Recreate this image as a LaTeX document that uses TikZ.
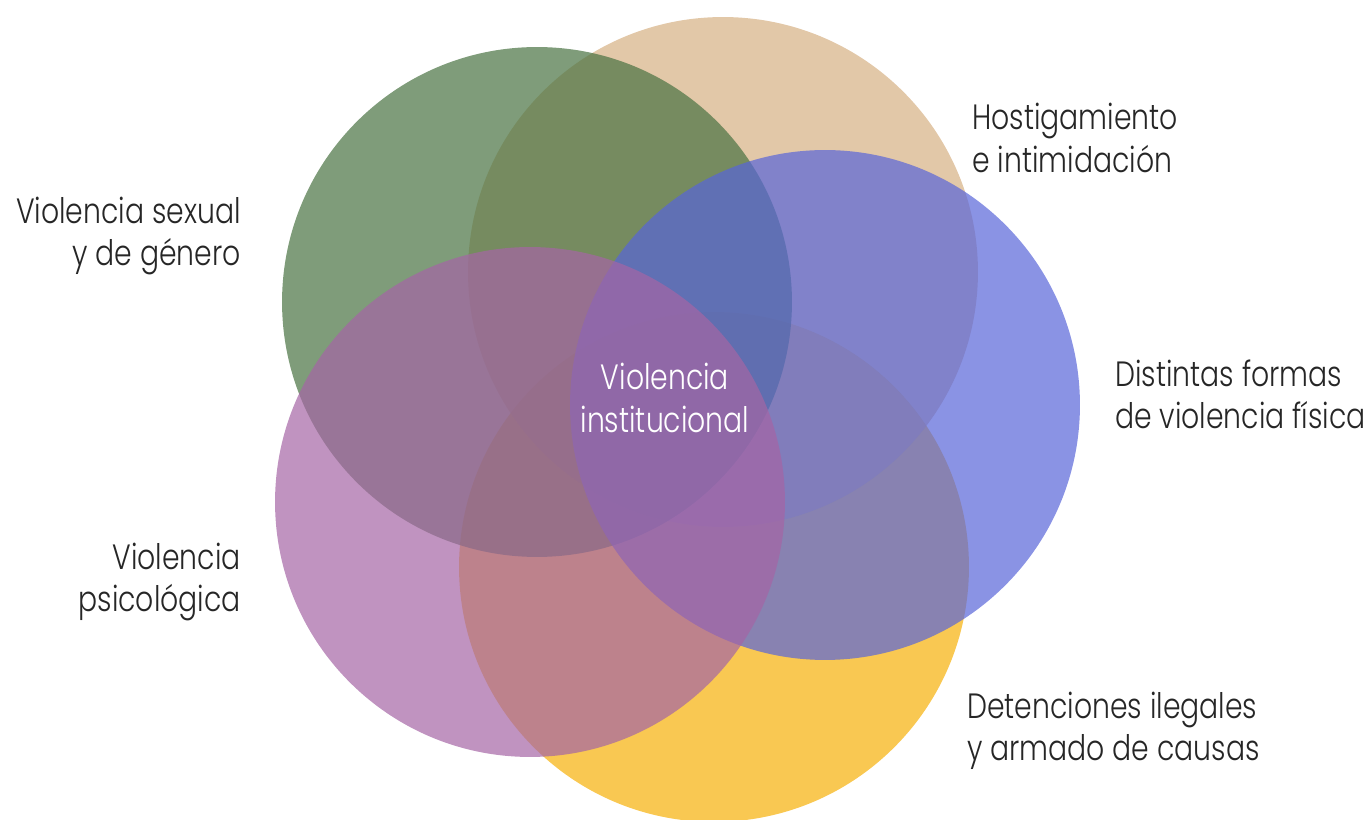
\documentclass[tikz,border=0pt]{standalone}
\usepackage{fontspec}
\setmainfont{Poppins}[UprightFont=* Light,FakeStretch=0.805]

\definecolor{hostcol}{RGB}{214,176,131}
\definecolor{sexcol}{RGB}{72,114,65}
\definecolor{fiscol}{RGB}{88,101,217}
\definecolor{psicol}{RGB}{165,101,165}
\definecolor{detcol}{RGB}{246,176,8}

\begin{document}
\begin{tikzpicture}[x=0.02cm,y=-0.02cm,
    blob/.style={fill opacity=0.7},
    lbl/.style={font=\fontsize{20}{24}\selectfont,inner sep=0pt,text=black!85}]
  \useasboundingbox (0,0) rectangle (1367,820);

  % circles, bottom to top
  \fill[blob,detcol] (714,567) circle[radius=5.1cm];
  \fill[blob,hostcol] (723,272) circle[radius=5.1cm];
  \fill[blob,sexcol] (537,302) circle[radius=5.1cm];
  \fill[blob,fiscol] (825,405) circle[radius=5.1cm];
  \fill[blob,psicol] (530,502) circle[radius=5.1cm];

  % labels
  \node[lbl,anchor=west,align=left] (host) at (972,138) {Hostigamiento\\e intimidación};
  \node[lbl,anchor=east,align=right] (sex) at (241,236) {Violencia sexual\\y de género};
  \node[lbl,anchor=west,align=left] (fis) at (1115,394) {Distintas formas\\de violencia física};
  \node[lbl,anchor=east,align=right] (psi) at (241,582) {Violencia\\psicológica};
  \node[lbl,anchor=west,align=left] (det) at (967,731) {Detenciones ilegales\\y armado de causas};
  \node[lbl,align=center,text=white] (inst) at (665,398) {Violencia\\institucional};
\end{tikzpicture}
\end{document}
